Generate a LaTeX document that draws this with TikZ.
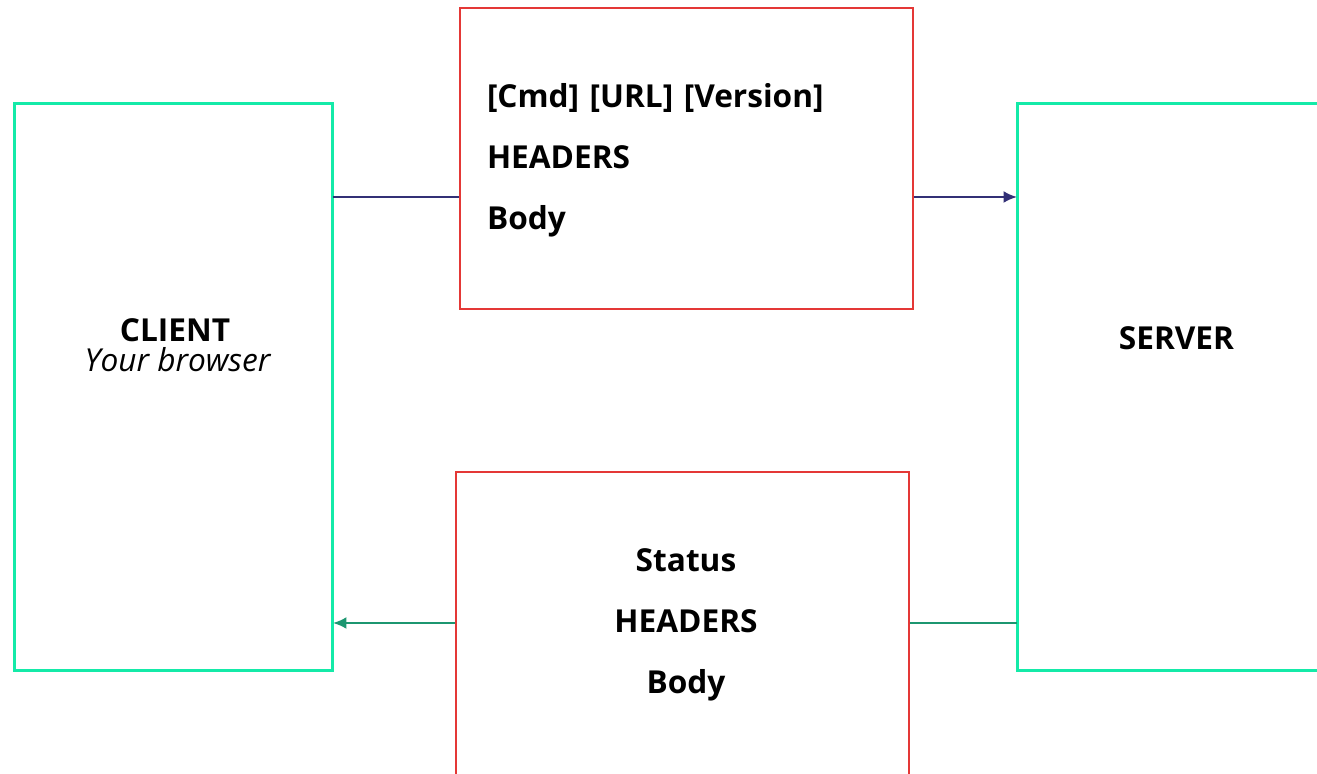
\documentclass[tikz,border=0pt]{standalone}
\usepackage{fontspec}
\setmainfont{Open Sans}
\usetikzlibrary{arrows.meta}
\usetikzlibrary{positioning,calc}

\definecolor{mint}{RGB}{20,234,168}
\definecolor{boxred}{RGB}{228,56,54}
\definecolor{reqblue}{RGB}{50,48,118}
\definecolor{resgreen}{RGB}{28,150,112}

\tikzset{
  peer/.style={draw=mint, line width=0.3mm, minimum width=31.9mm, minimum height=56.7mm, inner sep=0pt, outer sep=0pt},
  msg/.style={draw=boxred, line width=0.28mm, minimum width=45.3mm, inner sep=0pt},
  txt/.style={font=\fontsize{9}{17.4}\selectfont\bfseries},
  link/.style={line width=0.22mm},
  tip/.style={-{Latex[length=1.35mm,width=1.2mm]}},
}

\begin{document}
\begin{tikzpicture}[x=0.1mm,y=-0.1mm]
		
		\useasboundingbox (0,0) rectangle (1317,774);
		\clip (0,0) rectangle (1317,774);
		
		\node [peer] (client) at (173.5,387.5) {};
		\node [peer] (server) at (1176.5,387.5) {};
		
		\node [font=\fontsize{9}{8.5}\selectfont, align=center] (clientname) at (175,345) {\bfseries CLIENT\\\itshape\hspace*{0.5mm}Your browser};
		\node [txt] (servername) at (1176.5,338) {SERVER};
		
		%% request and response
		\node [msg, minimum height=30.1mm] (request) at (686.5,158.5) {};
		\node [txt, text width=39.9mm, align=left] (reqtext) at (686.5,160) {[Cmd] [URL] [Version]\\HEADERS\\Body};
		
		\node [msg, minimum height=30.4mm] (response) at (682.5,624) {};
		\node [txt, align=center] (restext) at (686,625) {Status\\HEADERS\\Body};
		
		\coordinate (upline) at (0,197);
		\coordinate (downline) at (0,623);
		
		\draw [link, reqblue] (client.east |- upline) -- (request.west |- upline);
		\draw [link, reqblue, tip] (request.east |- upline) -- (server.west |- upline);
		
		\draw [link, resgreen] (server.west |- downline) -- (response.east |- downline);
		\draw [link, resgreen, tip] (response.west |- downline) -- (client.east |- downline);
		
\end{tikzpicture}
\end{document}
